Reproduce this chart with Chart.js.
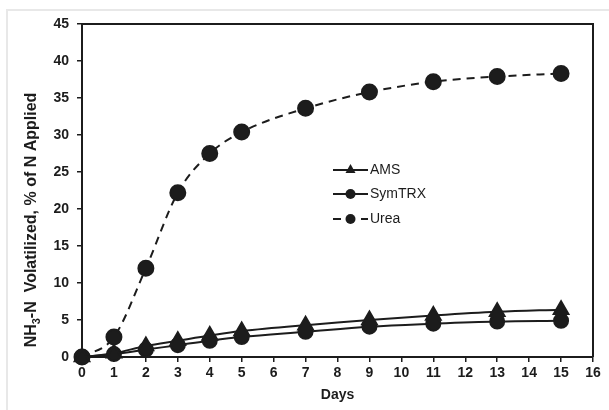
<!DOCTYPE html>
<html>
<meta name="viewport" content="width=device-width, initial-scale=1.0" />
<style>
	html, body {
		width: 100%;
		height: 100%;
		margin: 0;
		padding: 0;
		overflow: hidden;
		background: #fff;
	}
	#wrap {
		position: absolute;
		left: 0;
		top: 0;
		width: 609px;
		height: 410px;
	}
</style>
<script src="https://cdn.jsdelivr.net/npm/chart.js"></script>
<script>

	// Days sampled and % of applied N volatilized as NH3-N
	var days = [0, 1, 2, 3, 4, 5, 7, 9, 11, 13, 15];
	var ams = [0, 0.5, 1.5, 2.2, 2.9, 3.5, 4.3, 5.0, 5.6, 6.1, 6.4];
	var symtrx = [0, 0.4, 1.0, 1.6, 2.2, 2.7, 3.4, 4.1, 4.5, 4.8, 4.9];
	var urea = [0, 2.7, 12.0, 22.2, 27.5, 30.4, 33.6, 35.8, 37.2, 37.9, 38.3];

	var seriesNames = ["AMS", "SymTRX", "Urea"];
	var yTitleParts = ["NH", "3", "-N  Volatilized, % of N Applied"];
	var xTitle = "Days";

	var ink = '#1c1c1c';

	function pts(vals) {
		var out = [];
		for (var i = 0; i < days.length; i++) {
			out.push({x: days[i], y: vals[i]});
		}
		return out;
	}

	// light frame, box on top/right
	var framePlugin = {
		id: 'frame',
		beforeDraw: function (chart) {
			var ctx = chart.ctx;
			ctx.save();
			ctx.strokeStyle = '#e8e8e8';
			ctx.lineWidth = 2;
			ctx.beginPath();
			ctx.moveTo(7, 410);
			ctx.lineTo(7, 10);
			ctx.lineTo(609, 10);
			ctx.stroke();
			ctx.restore();
		},
		beforeDatasetsDraw: function (chart) {
			var a = chart.chartArea;
			var ctx = chart.ctx;
			ctx.save();
			ctx.strokeStyle = ink;
			ctx.lineWidth = 2;
			ctx.beginPath();
			ctx.moveTo(a.left, a.top);
			ctx.lineTo(a.right, a.top);
			ctx.lineTo(a.right, a.bottom);
			ctx.stroke();
			ctx.restore();
		}
	};

	// y title with a subscript 3
	var yTitlePlugin = {
		id: 'ytitle',
		afterDraw: function (chart) {
			var ctx = chart.ctx;
			var big = 'bold 16px "Liberation Sans", Arial, sans-serif';
			var small = 'bold 11px "Liberation Sans", Arial, sans-serif';
			ctx.save();
			ctx.font = big;
			var w0 = ctx.measureText(yTitleParts[0]).width;
			var w2 = ctx.measureText(yTitleParts[2]).width;
			ctx.font = small;
			var w1 = ctx.measureText(yTitleParts[1]).width;
			var total = w0 + w1 + w2;
			ctx.translate(36, 220);
			ctx.rotate(-Math.PI / 2);
			ctx.fillStyle = ink;
			ctx.textBaseline = 'alphabetic';
			var x = -total / 2;
			ctx.font = big;
			ctx.fillText(yTitleParts[0], x, 0);
			x += w0;
			ctx.font = small;
			ctx.fillText(yTitleParts[1], x, 4);
			x += w1;
			ctx.font = big;
			ctx.fillText(yTitleParts[2], x, 0);
			ctx.restore();
		}
	};

	// legend inside the plot, line + marker samples
	var legendPlugin = {
		id: 'innerLegend',
		afterDraw: function (chart) {
			var ctx = chart.ctx;
			var rows = [170, 194, 219];
			ctx.save();
			for (var i = 0; i < chart.data.datasets.length; i++) {
				var ds = chart.data.datasets[i];
				var y = rows[i];
				ctx.strokeStyle = ink;
				ctx.lineWidth = 2;
				ctx.setLineDash(ds.borderDash || []);
				ctx.beginPath();
				ctx.moveTo(333, y);
				ctx.lineTo(368, y);
				ctx.stroke();
				ctx.setLineDash([]);
				ctx.fillStyle = ink;
				ctx.beginPath();
				if (ds.pointStyle === 'triangle') {
					ctx.moveTo(350.5, y - 6);
					ctx.lineTo(355.5, y + 3);
					ctx.lineTo(345.5, y + 3);
					ctx.closePath();
				} else {
					ctx.arc(350.5, y, 5, 0, Math.PI * 2);
				}
				ctx.fill();
				ctx.font = '14px "Liberation Sans", Arial, sans-serif';
				ctx.textBaseline = 'middle';
				ctx.fillText(ds.label, 370, y);
			}
			ctx.restore();
		}
	};

	window.onload = function () {

		var data = {
			datasets: [{
					label: seriesNames[0],
					data: pts(ams),
					borderColor: ink,
					backgroundColor: ink,
					borderWidth: 2,
					pointStyle: 'triangle',
					pointRadius: 8.5,
					tension: 0.35,
					clip: false
				}, {
					label: seriesNames[1],
					data: pts(symtrx),
					borderColor: ink,
					backgroundColor: ink,
					borderWidth: 2,
					pointStyle: 'circle',
					pointRadius: 7,
					tension: 0.35,
					clip: false
				}, {
					label: seriesNames[2],
					data: pts(urea),
					borderColor: ink,
					backgroundColor: ink,
					borderWidth: 2,
					borderDash: [8, 6],
					pointStyle: 'circle',
					pointRadius: 7.5,
					cubicInterpolationMode: 'monotone',
					clip: false
				}]
		};

		var tickFont = {family: '"Liberation Sans", Arial, sans-serif', size: 14, weight: 'bold'};

		var config = {
			type: 'line',
			data: data,
			plugins: [framePlugin, yTitlePlugin, legendPlugin],
			options: {
				responsive: false,
				animation: false,
				events: [],
				layout: {
					padding: {left: 0, right: 16, top: 24, bottom: 0}
				},
				plugins: {
					legend: {display: false},
					tooltip: {enabled: false}
				},
				scales: {
					x: {
						type: 'linear',
						min: 0,
						max: 16,
						afterFit: function (s) { s.height = 53; },
						ticks: {stepSize: 1, color: ink, font: tickFont, padding: 3, maxRotation: 0},
						grid: {drawOnChartArea: false, drawTicks: true, tickLength: 5, color: ink, lineWidth: 1.5},
						border: {display: true, color: ink, width: 2},
						title: {
							display: true,
							text: xTitle,
							color: ink,
							font: {family: '"Liberation Sans", Arial, sans-serif', size: 14, weight: 'bold'},
							padding: {top: 0, bottom: 6}
						}
					},
					y: {
						min: 0,
						max: 45,
						afterFit: function (s) { s.width = 82; },
						ticks: {stepSize: 5, color: ink, font: tickFont, padding: 8},
						grid: {drawOnChartArea: false, drawTicks: true, tickLength: 5, color: ink, lineWidth: 1.5},
						border: {display: true, color: ink, width: 2}
					}
				}
			}
		};

		new Chart(document.getElementById('myChart'), config);
	};

</script>
<body>
	<div id="wrap">
		<canvas id="myChart" width="609" height="410"></canvas>
	</div>
</body>
</html>
